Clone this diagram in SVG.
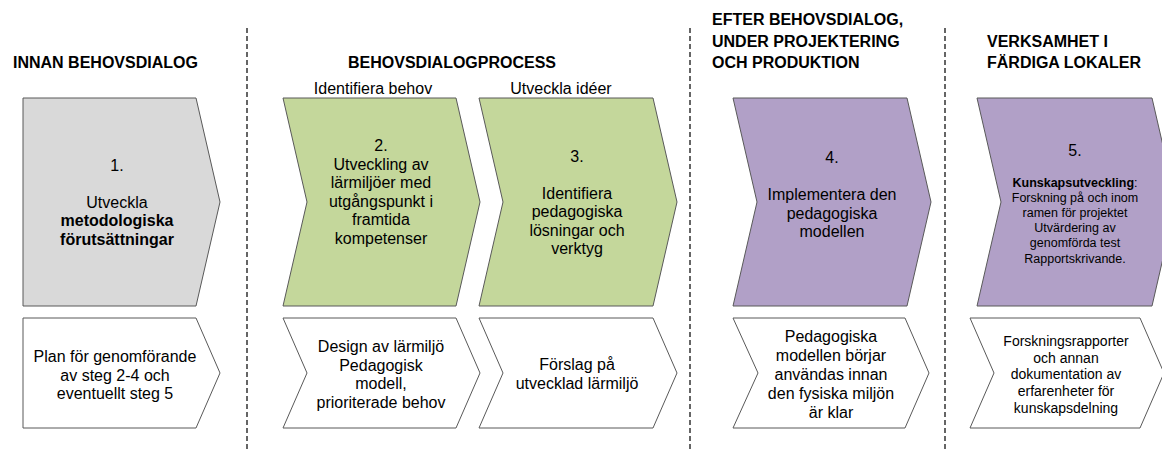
<svg xmlns="http://www.w3.org/2000/svg" width="1162" height="450" viewBox="0 0 1162 450">
<style>
.shape{stroke:#595959;stroke-width:1;stroke-linejoin:miter}
.gray{fill:#d9d9d9}
.green{fill:#c4d79b}
.purple{fill:#b1a0c7}
.white{fill:#ffffff}
text{font-family:"Liberation Sans",Arial,sans-serif;fill:#000}
.h{font-size:16px;font-weight:bold}
.t{font-size:16px;text-anchor:middle}
.s{font-size:14px;text-anchor:middle}
.xs{font-size:12.5px;text-anchor:middle}
.b{font-weight:bold}
.sep{stroke:#333;stroke-width:1.5;stroke-dasharray:5 3;fill:none}
</style>
<rect width="1162" height="450" fill="#ffffff"/>
<g id="separators">
<line class="sep" x1="247" y1="28" x2="247" y2="450"/>
<line class="sep" x1="690" y1="28" x2="690" y2="450"/>
<line class="sep" x1="945" y1="28" x2="945" y2="450"/>
</g>
<g id="headers">
<text class="h" x="13" y="68">INNAN BEHOVSDIALOG</text>
<text class="h" x="348" y="68">BEHOVSDIALOGPROCESS</text>
<text class="t" x="373" y="94">Identifiera behov</text>
<text class="t" x="561" y="94">Utveckla idéer</text>
<text class="h" x="712" y="25">EFTER BEHOVSDIALOG,</text>
<text class="h" x="712" y="46.5">UNDER PROJEKTERING</text>
<text class="h" x="712" y="68">OCH PRODUKTION</text>
<text class="h" x="987" y="46.5">VERKSAMHET I</text>
<text class="h" x="987" y="68">FÄRDIGA LOKALER</text>
</g>
<g id="step1">
<polygon class="shape gray" points="23,98 196,98 220,202 196,306 23,306"/>
<text class="t" x="117"><tspan x="117" y="170.5">1.</tspan><tspan x="117" y="207.5">Utveckla</tspan><tspan x="117" y="226" class="b">metodologiska</tspan><tspan x="117" y="244.5" class="b">förutsättningar</tspan></text>
</g>
<g id="result1">
<polygon class="shape white" points="23,318 196,318 220,373 196,428 23,428"/>
<text class="t"><tspan x="115" y="362">Plan för genomförande</tspan><tspan x="115" y="380.5">av steg 2-4 och</tspan><tspan x="115" y="399">eventuellt steg 5</tspan></text>
</g>
<g id="step2">
<polygon class="shape green" points="283,98 456,98 480,202 456,306 283,306 307,202"/>
<text class="t"><tspan x="381" y="151">2.</tspan><tspan x="381" y="169.5">Utveckling av</tspan><tspan x="381" y="188">lärmiljöer med</tspan><tspan x="381" y="206.5">utgångspunkt i</tspan><tspan x="381" y="225">framtida</tspan><tspan x="381" y="243.5">kompetenser</tspan></text>
</g>
<g id="result2">
<polygon class="shape white" points="283,318 456,318 480,373 456,428 283,428 307,373"/>
<text class="t"><tspan x="381" y="352">Design av lärmiljö</tspan><tspan x="381" y="370.5">Pedagogisk</tspan><tspan x="381" y="389">modell,</tspan><tspan x="381" y="407.5">prioriterade behov</tspan></text>
</g>
<g id="step3">
<polygon class="shape green" points="479,98 653,98 677,202 653,306 479,306 503,202"/>
<text class="t"><tspan x="577" y="161.5">3.</tspan><tspan x="577" y="198.5">Identifiera</tspan><tspan x="577" y="217">pedagogiska</tspan><tspan x="577" y="235.5">lösningar och</tspan><tspan x="577" y="254">verktyg</tspan></text>
</g>
<g id="result3">
<polygon class="shape white" points="479,318 653,318 677,373 653,428 479,428 503,373"/>
<text class="t"><tspan x="577" y="370">Förslag på</tspan><tspan x="577" y="388.5">utvecklad lärmiljö</tspan></text>
</g>
<g id="step4">
<polygon class="shape purple" points="733,98 907,98 931,202 907,306 733,306 757,202"/>
<text class="t"><tspan x="832" y="162.5">4.</tspan><tspan x="832" y="200">Implementera den</tspan><tspan x="832" y="218.5">pedagogiska</tspan><tspan x="832" y="237">modellen</tspan></text>
</g>
<g id="result4">
<polygon class="shape white" points="733,318 905,318 929,373 905,428 733,428 758,373"/>
<text class="t"><tspan x="831" y="342">Pedagogiska</tspan><tspan x="831" y="361">modellen börjar</tspan><tspan x="831" y="380">användas innan</tspan><tspan x="831" y="399">den fysiska miljön</tspan><tspan x="831" y="418">är klar</tspan></text>
</g>
<g id="step5">
<polygon class="shape purple" points="977,98 1152,98 1176,202 1152,306 977,306 1001,202"/>
<text class="t" x="1075" y="156">5.</text>
<text class="xs"><tspan x="1075" y="187"><tspan class="b">Kunskapsutveckling</tspan>:</tspan><tspan x="1075" y="202">Forskning på och inom</tspan><tspan x="1075" y="217">ramen för projektet</tspan><tspan x="1075" y="232">Utvärdering av</tspan><tspan x="1075" y="247">genomförda test</tspan><tspan x="1075" y="263">Rapportskrivande.</tspan></text>
</g>
<g id="result5">
<polygon class="shape white" points="970,318 1140,318 1164,373 1140,428 970,428 994,373"/>
<text class="s"><tspan x="1066" y="346">Forskningsrapporter</tspan><tspan x="1066" y="362.7">och annan</tspan><tspan x="1066" y="379.4">dokumentation av</tspan><tspan x="1066" y="396.1">erfarenheter för</tspan><tspan x="1066" y="412.8">kunskapsdelning</tspan></text>
</g>
</svg>
